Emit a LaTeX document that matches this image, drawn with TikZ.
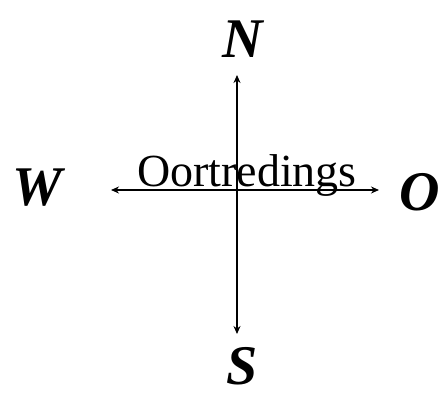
\documentclass[tikz,border=0pt]{standalone}
\usepackage{fontspec}
\setmainfont{Liberation Serif}
\usetikzlibrary{arrows.meta}

\begin{document}
\begin{tikzpicture}[
        x=1pt, y=-1pt,
        wind/.style={font=\fontsize{56}{56}\selectfont\bfseries\itshape, inner sep=0pt},
        arrow/.style={{Stealth[length=8pt,width=7pt]}-{Stealth[length=8pt,width=7pt]}, line width=1.6pt}
        ]
        \useasboundingbox (0,0) rectangle (444,395);

        % windrigtings
        \node[wind] (north) at (243,39) {N};
        \node[wind] (west) at (37,188) {W};
        \node[wind] (east) at (420,192) {O};
        \node[wind] (south) at (242,366) {S};

        % eindpunte van die pyle
        \coordinate (top) at (237,75);
        \coordinate (bottom) at (237,334);
        \coordinate (left) at (111,190);
        \coordinate (right) at (379,190);

        \draw[arrow] (top) -- (bottom);
        \draw[arrow] (left) -- (right);

        \node[font=\fontsize{46}{46}\selectfont, anchor=base, inner sep=0pt] (label) at (247,187) {Oortredings};

    \end{tikzpicture}
\end{document}
